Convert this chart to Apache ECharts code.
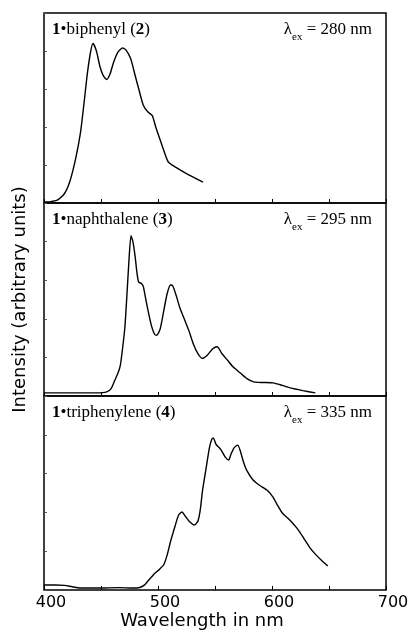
<!DOCTYPE html>
<html>
<head>
<meta charset="utf-8">
<script src="https://cdn.jsdelivr.net/npm/echarts@6/dist/echarts.min.js"></script>
<style>
html,body{margin:0;padding:0;background:#fff;}
#main{width:408px;height:639px;}
</style>
</head>
<body>
<div id="main"></div>
<script>
// wavelength (nm) / intensity (arbitrary, 0-100 of panel height)
var biphenylWl = [400,405,412,418,423,428,432,435,438,441,443,446,449,452,455,458,461,465,469,472,476,480,484,487,491,495,498,502,506,509,515,525,539.5];
var biphenylI  = [0.5,0.6,1.6,5,12,24,37,52,68,80,84,80,72,67,65,68,74,79.5,81.6,80.5,76,67,58,51.6,48,46,40,33,26,21.6,19,15.5,11];

var naphWl = [400,446,455,459,462,465,467,469,471,473,474.5,476.3,478,480,481.5,483,485,487,489,491,494,497,499,502,505,508,511,513,516,519,523,527,531,535,539,543,548,552,556,561,566,572,578,584,592,601,609,616,627,638];
var naphI  = [1.6,1.6,2.1,4,8,12,16,25,36,55,70,83,80,72,64,59,58.5,57,51,45,37,32,31.5,35,44,53,57.5,57,52,46,40,34,27,22,19.5,21,24.5,25.5,22,18.5,15,12,9,7.3,7,6.8,5.5,4.2,2.8,1.6];

var triphWl = [400,410,418,424,432,450,465,478,484,488,491,494,497,501,505,508,511,515,518,521,524,528,532,535,537,539,542,545,547,548.5,551,555,559,562,564,567,570,572,575,578,583,589,596,601,605,609,614,618,623,628,633,638,644,649];
var triphI  = [2.6,2.6,2.4,1.8,1.0,1.0,1.2,1.0,1.3,2.5,4.5,6.5,8.5,10.5,13,18,25,33,38.5,40.2,38,35,33.5,35.5,41,51,62,73,77.5,78.4,75,72.5,68.5,67,70,73.5,74.7,72,66,61.5,57,54,51.3,47.8,43.5,39.7,37,34.5,31,26.5,22,18.5,15,12.4];

var xTicks = [400,500,600,700];
var panelNames = ['biphenyl','naphthalene','triphenylene'];
var panelNums = ['2','3','4'];
var excitation = ['280','295','335'];

function pairs(xs, ys){
	var out = [];
	for(var i=0;i<xs.length;i++){
		out.push([xs[i], ys[i]]);
	}
	return out;
}

var grids = [
	{left:44, right:22, top:13, height:190},
	{left:44, right:22, top:203, height:193},
	{left:44, right:22, top:396, height:194}
];
var xAxes = [], yAxes = [], graphics = [];
for(var g=0;g<3;g++){
	grids[g].show = true;
	grids[g].borderColor = '#000';
	grids[g].borderWidth = 1.5;
	grids[g].outerBoundsMode = 'none';
	grids[g].containLabel = false;
	xAxes.push({
		type:'value', gridIndex:g, min:xTicks[0], max:xTicks[xTicks.length-1], interval:100,
		axisLine:{show:false},
		axisTick:{show:true, inside:true, length:4, lineStyle:{color:'#000'}},
		minorTick:{show:true, splitNumber:2, length:4, lineStyle:{color:'#000'}},
		splitLine:{show:false},
		axisLabel:{show:g==2, color:'#000', fontFamily:'DejaVu Sans', fontSize:16, margin:5, padding:[0,0,0,14]},
		name: g==2 ? 'Wavelength in nm' : '',
		nameLocation:'middle', nameGap:22,
		nameTextStyle:{color:'#000', fontFamily:'DejaVu Sans', fontSize:18, padding:[0,26,0,0]}
	});
	yAxes.push({
		type:'value', gridIndex:g, min:0, max:100, interval:20,
		axisLine:{show:false},
		axisTick:{show:true, inside:true, length:3, lineStyle:{color:'#555'}},
		splitLine:{show:false},
		axisLabel:{show:false},
		name: g==1 ? 'Intensity (arbitrary units)' : '',
		nameLocation:'middle', nameGap:15,
		nameTextStyle:{color:'#000', fontFamily:'DejaVu Sans', fontSize:18}
	});
	graphics.push({
		type:'text', left:52, top:grids[g].top+8,
		style:{
			text:'{b|1}•'+panelNames[g]+' ({b|'+panelNums[g]+'})',
			fill:'#000', font:'17px "Liberation Serif"',
			rich:{b:{fontWeight:'bold', fontFamily:'Liberation Serif', fontSize:17}}
		}
	});
	graphics.push({
		type:'text', right:36, top:grids[g].top+8,
		style:{
			text:'λ{s|ex} = '+excitation[g]+' nm',
			fill:'#000', font:'17px "Liberation Serif"',
			rich:{s:{fontFamily:'Liberation Serif', fontSize:11, verticalAlign:'bottom', lineHeight:26}}
		}
	});
}

var lineStyle = {color:'#000', width:1.4};
var chart = echarts.init(document.getElementById('main'));
chart.setOption({
	animation:false,
	grid:grids,
	xAxis:xAxes,
	yAxis:yAxes,
	graphic:graphics,
	series:[
		{type:'line', xAxisIndex:0, yAxisIndex:0, data:pairs(biphenylWl,biphenylI), showSymbol:false, smooth:0.2, lineStyle:lineStyle},
		{type:'line', xAxisIndex:1, yAxisIndex:1, data:pairs(naphWl,naphI), showSymbol:false, smooth:0.2, lineStyle:lineStyle},
		{type:'line', xAxisIndex:2, yAxisIndex:2, data:pairs(triphWl,triphI), showSymbol:false, smooth:0.2, lineStyle:lineStyle}
	]
});
</script>
</body>
</html>
